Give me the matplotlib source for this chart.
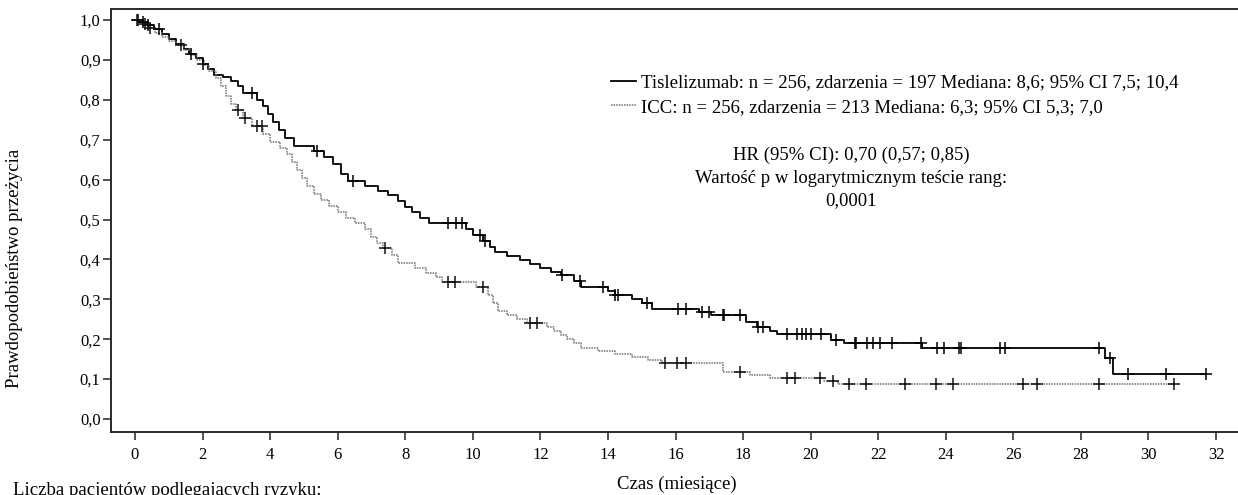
import numpy as np
import matplotlib
matplotlib.use("Agg")
import matplotlib.pyplot as plt
from matplotlib.lines import Line2D
from matplotlib.ticker import FuncFormatter

plt.rcParams['font.family'] = ['Liberation Serif', 'DejaVu Serif']

# Kaplan-Meier steps (time in months, survival after the step)
tisle_t = [0, 0.15, 0.35, 0.55, 0.8, 1.0, 1.2, 1.45, 1.6, 1.8, 2.0, 2.15, 2.35, 2.6, 2.85,
           3.05, 3.2, 3.6, 3.8, 3.95, 4.1, 4.25, 4.45, 4.7, 5.3, 5.6, 5.85, 6.1, 6.3, 6.8,
           7.2, 7.5, 7.8, 8.0, 8.2, 8.45, 8.7, 9.8, 10.0, 10.3, 10.5, 10.65, 11.0, 11.4,
           11.7, 12.0, 12.3, 12.6, 13.0, 13.2, 14.0, 14.2, 14.7, 15.0, 15.3, 16.7, 17.05,
           18.1, 18.4, 18.8, 19.0, 20.6, 21.0, 23.3, 28.7, 28.95, 31.7]
tisle_s = [1.0, 0.996, 0.988, 0.978, 0.965, 0.952, 0.94, 0.928, 0.916, 0.905, 0.89, 0.876,
           0.862, 0.856, 0.848, 0.835, 0.818, 0.8, 0.785, 0.765, 0.745, 0.725, 0.705, 0.685,
           0.672, 0.656, 0.64, 0.614, 0.596, 0.585, 0.572, 0.562, 0.546, 0.532, 0.52, 0.505,
           0.49, 0.475, 0.46, 0.445, 0.43, 0.418, 0.408, 0.398, 0.388, 0.378, 0.368, 0.36,
           0.345, 0.332, 0.322, 0.31, 0.3, 0.29, 0.276, 0.268, 0.26, 0.243, 0.23, 0.22,
           0.213, 0.198, 0.19, 0.178, 0.153, 0.113, 0.113]
tisle_cens = [0.1, 0.25, 0.4, 0.7, 1.65, 2.0, 3.45, 5.4, 6.45, 9.27, 9.5, 9.67, 10.2, 10.35,
              12.63, 13.17, 13.85, 14.2, 14.3, 15.15, 16.07, 16.3, 16.77, 17.0, 17.4, 17.45,
              17.9, 18.43, 18.6, 19.3, 19.6, 19.75, 19.85, 20.0, 20.3, 20.75, 21.3, 21.35,
              21.67, 21.85, 22.04, 22.4, 23.28, 23.75, 23.95, 24.4, 24.45, 25.6, 25.75,
              28.55, 28.85, 29.4, 30.53, 31.7]

icc_t = [0, 0.2, 0.4, 0.6, 0.8, 1.0, 1.2, 1.45, 1.65, 1.85, 2.05, 2.2, 2.4, 2.55, 2.7, 2.85,
         3.0, 3.2, 3.45, 3.8, 4.0, 4.3, 4.5, 4.65, 4.8, 4.95, 5.1, 5.3, 5.5, 5.75, 6.0, 6.25,
         6.5, 6.8, 7.0, 7.15, 7.35, 7.6, 7.8, 8.3, 8.6, 8.9, 9.1, 10.1, 10.45, 10.6, 10.75,
         11.0, 11.3, 11.6, 12.2, 12.4, 12.6, 12.8, 13.0, 13.2, 13.7, 14.2, 14.7, 15.2, 15.6,
         17.4, 18.2, 18.8, 20.4, 20.8, 30.8]
icc_s = [1.0, 0.99, 0.98, 0.968, 0.957, 0.947, 0.937, 0.925, 0.912, 0.9, 0.886, 0.872, 0.855,
         0.835, 0.81, 0.79, 0.775, 0.755, 0.735, 0.715, 0.695, 0.68, 0.665, 0.645, 0.624,
         0.605, 0.585, 0.565, 0.55, 0.535, 0.52, 0.505, 0.49, 0.475, 0.455, 0.44, 0.428,
         0.41, 0.39, 0.378, 0.366, 0.355, 0.343, 0.33, 0.31, 0.29, 0.27, 0.26, 0.25, 0.24,
         0.23, 0.22, 0.21, 0.2, 0.19, 0.178, 0.17, 0.163, 0.156, 0.148, 0.14, 0.118, 0.11,
         0.103, 0.095, 0.088, 0.088]
icc_cens = [0.05, 0.3, 0.45, 1.35, 3.05, 3.26, 3.6, 3.76, 7.4, 9.27, 9.47, 10.3, 11.69, 11.9,
            15.68, 16.05, 16.3, 17.9, 19.29, 19.55, 20.27, 20.66, 21.15, 21.65, 22.78, 23.72,
            24.2, 26.3, 26.7, 28.55, 30.77]

labels = ["Tislelizumab: n = 256, zdarzenia = 197 Mediana: 8,6; 95% CI 7,5; 10,4",
          "ICC: n = 256, zdarzenia = 213 Mediana: 6,3; 95% CI 5,3; 7,0"]
hr_text = "HR (95% CI): 0,70 (0,57; 0,85)\nWartość p w logarytmicznym teście rang:\n0,0001"


def surv_at(times, surv, x):
    idx = np.searchsorted(times, x, side='right') - 1
    return np.asarray(surv)[idx]


fs = 13.5
fig = plt.figure(figsize=(12.38, 4.95), dpi=100)
ax = fig.add_axes([111 / 1238, 1 - 432 / 495, 1 - 111 / 1238, (432 - 9) / 495])

solid = dict(color='black', lw=1.3)
dotted = dict(color='#707070', lw=1.1, linestyle=(0, (1, 0.7)))

ax.step(tisle_t, tisle_s, where='post', **solid)
ax.step(icc_t, icc_s, where='post', **dotted)
ax.plot(tisle_cens, surv_at(tisle_t, tisle_s, tisle_cens), '+', color='black', ms=9, mew=1.1)
ax.plot(icc_cens, surv_at(icc_t, icc_s, icc_cens), '+', color='#111111', ms=9, mew=1.1)

ax.set_xlim(-0.71, 32.65)
ax.set_ylim(-0.0326, 1.0276)
ax.set_xticks(np.arange(0, 33, 2))
ax.set_yticks(np.arange(0, 1.01, 0.1))
ax.yaxis.set_major_formatter(FuncFormatter(lambda v, p: f"{v:.1f}".replace('.', ',')))
ax.tick_params(axis='both', direction='out', length=5.5, width=1.1, labelsize=12, color='#222222')
ax.tick_params(axis='y', pad=2)
ax.tick_params(axis='x', pad=5)
for side in ['left', 'bottom', 'top']:
    ax.spines[side].set_linewidth(1.4)
    ax.spines[side].set_color('#2a2a2a')
ax.spines['right'].set_visible(False)

handles = [Line2D([], [], **solid), Line2D([], [], **dotted)]
ax.legend(handles, labels, loc='upper left', bbox_to_anchor=((611 - 111) / 1127, 1 - (74 - 9) / 423),
          bbox_transform=ax.transAxes, frameon=False, fontsize=fs, handlelength=1.35,
          handletextpad=0.25, borderaxespad=0, borderpad=0, labelspacing=0.4)

fig.text(851 / 1238, 1 - 178 / 495, hr_text, ha='center', va='center', fontsize=fs, linespacing=1.42)

fig.text(677 / 1238, 1 - 484 / 495, "Czas (miesiące)", ha='center', va='center', fontsize=fs)
fig.text(15 / 1238, 1 - 268 / 495, "Prawdopodobieństwo przeżycia", ha='center', va='center',
         rotation=90, fontsize=fs)
fig.text(13 / 1238, 1 - 482 / 495, "Liczba pacjentów podlegających ryzyku:", ha='left', va='top',
         fontsize=fs)

fig.savefig("out.png", dpi=100)
